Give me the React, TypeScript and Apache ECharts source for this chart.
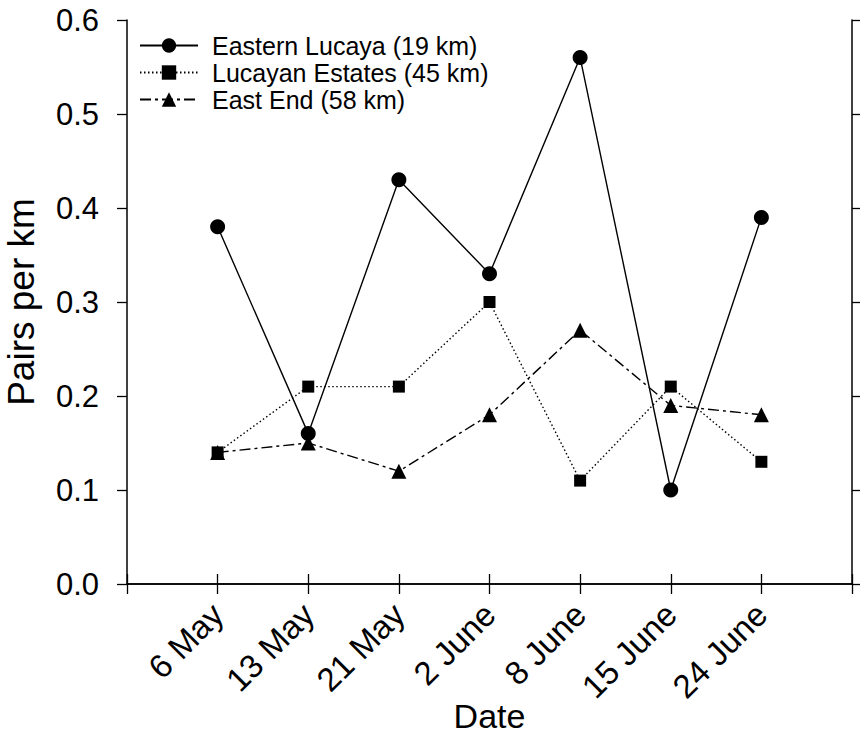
import React, { useEffect, useRef } from "react";
import * as echarts from "echarts";

const dates = ["6 May", "13 May", "21 May", "2 June", "8 June", "15 June", "24 June"];
const easternLucaya = [0.38, 0.16, 0.43, 0.33, 0.56, 0.1, 0.39];
const lucayanEstates = [0.14, 0.21, 0.21, 0.3, 0.11, 0.21, 0.13];
const eastEnd = [0.14, 0.15, 0.12, 0.18, 0.27, 0.19, 0.18];
const seriesNames = ["Eastern Lucaya (19 km)", "Lucayan Estates (45 km)", "East End (58 km)"];
const yTicks = { min: 0, max: 0.6, interval: 0.1 };

const FONT = "'Liberation Sans', Arial, Helvetica, sans-serif";

export default function App() {
  const ref = useRef<HTMLDivElement>(null);
  useEffect(() => {
    if (!ref.current) return;
    const chart = echarts.init(ref.current, undefined, { renderer: "svg" });
    const axisCats = ["", ...dates, " "];
    const toPts = (vals: number[]) => vals.map((v, i) => [i + 1, v]);
    const axisLine = { show: true, lineStyle: { color: "#000", width: 1.5 } };
    const axisTick = { show: true, inside: false, length: 10, lineStyle: { color: "#000", width: 1.3 } };
    const common = {
      type: "line",
      color: "#000",
      lineStyle: { color: "#000", width: 1.4 },
      itemStyle: { color: "#000" },
      z: 3,
    };
    chart.setOption({
      animation: false,
      backgroundColor: "#fff",
      textStyle: { fontFamily: FONT },
      grid: {
        left: 127,
        right: 8,
        top: 20,
        bottom: 151,
        containLabel: false,
        outerBoundsMode: "none",
      },
      legend: {
        show: true,
        orient: "vertical",
        left: 134,
        top: 28,
        itemWidth: 58,
        itemHeight: 18,
        itemGap: 2,
        textStyle: { fontFamily: FONT, fontSize: 25, color: "#000", padding: [0, 0, 0, 9] },
        data: seriesNames,
      },
      xAxis: [
        {
          type: "category",
          data: axisCats,
          boundaryGap: false,
          position: "bottom",
          axisLine,
          axisTick: { ...axisTick, interval: 0 },
          splitLine: { show: false },
          axisLabel: {
            interval: 0,
            rotate: 45,
            margin: 25,
            fontSize: 33,
            color: "#000",
            fontFamily: FONT,
          },
          name: "Date",
          nameLocation: "middle",
          nameGap: 115,
          nameMoveOverlap: false,
          nameTextStyle: { fontSize: 34, color: "#000", fontFamily: FONT },
        },
        {
          type: "category",
          data: axisCats,
          boundaryGap: false,
          position: "top",
          axisLine,
          axisTick: { ...axisTick, interval: 0 },
          axisLabel: { show: false },
          splitLine: { show: false },
        },
      ],
      yAxis: [
        {
          type: "value",
          ...yTicks,
          position: "left",
          axisLine,
          axisTick,
          splitLine: { show: false },
          axisLabel: {
            margin: 28,
            fontSize: 31,
            color: "#000",
            fontFamily: FONT,
            formatter: (v: number) => v.toFixed(1),
          },
          name: "Pairs per km",
          nameLocation: "middle",
          nameGap: 87,
          nameMoveOverlap: false,
          nameTextStyle: { fontSize: 37, color: "#000", fontFamily: FONT },
        },
        {
          type: "value",
          ...yTicks,
          position: "right",
          axisLine,
          axisTick,
          splitLine: { show: false },
          axisLabel: { show: false },
        },
      ],
      series: [
        {
          ...common,
          name: seriesNames[0],
          data: toPts(easternLucaya),
          symbol: "circle",
          symbolSize: 15,
          lineStyle: { color: "#000", width: 1.4, type: "solid" },
        },
        {
          ...common,
          name: seriesNames[1],
          data: toPts(lucayanEstates),
          symbol: "rect",
          symbolSize: 12,
          lineStyle: { color: "#000", width: 1.4, type: [1.5, 2.5] },
        },
        {
          ...common,
          name: seriesNames[2],
          data: toPts(eastEnd),
          symbol: "triangle",
          symbolSize: 15,
          lineStyle: { color: "#000", width: 1.4, type: [11, 4, 3, 4] },
        },
      ],
    });
    return () => chart.dispose();
  }, []);
  return (
    <div
      ref={ref}
      style={{ position: "fixed", left: 0, top: 0, width: 860, height: 735, background: "#fff" }}
    />
  );
}
